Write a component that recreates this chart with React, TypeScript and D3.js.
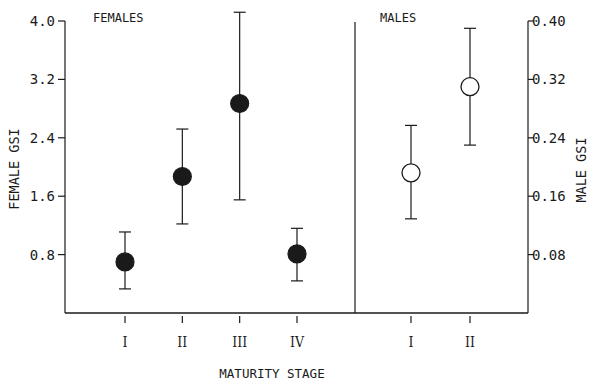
import React from "react";
import * as d3 from "d3";

const femaleStages = ["I", "II", "III", "IV"];
const femaleMean = [0.7, 1.87, 2.87, 0.81];
const femaleUpper = [1.11, 2.52, 4.12, 1.16];
const femaleLower = [0.33, 1.22, 1.55, 0.44];

const maleStages = ["I", "II"];
const maleMean = [0.192, 0.31];
const maleUpper = [0.257, 0.39];
const maleLower = [0.129, 0.23];

const leftTicks = [0.8, 1.6, 2.4, 3.2, 4.0];
const rightTicks = [0.08, 0.16, 0.24, 0.32, 0.4];

const W = 591;
const H = 382;
const left = 65;
const right = 528;
const divider = 355;
const top = 21;
const bottom = 313;

const font = "'DejaVu Sans Mono', monospace";
const ink = "#1a1a1a";

export default function App() {
  const yF = d3.scaleLinear().domain([0, 4]).range([bottom, top]);
  const yM = d3.scaleLinear().domain([0, 0.4]).range([bottom, top]);
  const xF = d3.scalePoint<string>().domain(femaleStages).range([125, 297]);
  const xM = d3.scalePoint<string>().domain(maleStages).range([411, 470]);
  const fmtL = d3.format(".1f");
  const fmtR = d3.format(".2f");
  const cap = 6;
  const r = 9;

  return (
    <svg width={W} height={H} style={{ position: "absolute", left: 0, top: 0, background: "#fff" }}>
      <g stroke={ink} fill="none" strokeWidth={1.2}>
        <line x1={left} x2={left} y1={top} y2={bottom} />
        <line x1={right} x2={right} y1={top} y2={bottom} />
        <line x1={left} x2={right} y1={bottom} y2={bottom} strokeWidth={1.4} />
        <line x1={divider} x2={divider} y1={top + 1} y2={bottom} />
        {leftTicks.map((t) => (
          <line key={"lt" + t} x1={left - 7} x2={left} y1={yF(t)} y2={yF(t)} />
        ))}
        {rightTicks.map((t) => (
          <line key={"rt" + t} x1={right} x2={right + 6} y1={yM(t)} y2={yM(t)} />
        ))}
        {femaleStages.map((s) => (
          <line key={"fx" + s} x1={xF(s)} x2={xF(s)} y1={bottom + 3} y2={bottom + 10} />
        ))}
        {maleStages.map((s) => (
          <line key={"mx" + s} x1={xM(s)} x2={xM(s)} y1={bottom + 3} y2={bottom + 10} />
        ))}
      </g>

      {leftTicks.map((t) => (
        <text key={"ll" + t} x={left - 10} y={yF(t)} dy="0.36em" textAnchor="end" fontSize={14} fill={ink} fontFamily={font}>
          {fmtL(t)}
        </text>
      ))}
      {rightTicks.map((t) => (
        <text key={"rl" + t} x={right + 4} y={yM(t)} dy="0.36em" textAnchor="start" fontSize={14} fill={ink} fontFamily={font}>
          {fmtR(t)}
        </text>
      ))}

      {femaleStages.map((s) => (
        <text key={"fl" + s} x={xF(s)} y={347} textAnchor="middle" fontSize={14} fill={ink} fontFamily="'DejaVu Serif', serif" style={{ fontStretch: "condensed" }}>
          {s}
        </text>
      ))}
      {maleStages.map((s) => (
        <text key={"ml" + s} x={xM(s)} y={347} textAnchor="middle" fontSize={14} fill={ink} fontFamily="'DejaVu Serif', serif" style={{ fontStretch: "condensed" }}>
          {s}
        </text>
      ))}

      <text x={272} y={378} textAnchor="middle" fontSize={12.5} fill={ink} fontFamily={font}>
        MATURITY STAGE
      </text>
      <text transform={`translate(19,169) rotate(-90)`} textAnchor="middle" fontSize={13.5} fill={ink} fontFamily={font}>
        FEMALE GSI
      </text>
      <text transform={`translate(586,170) rotate(-90)`} textAnchor="middle" fontSize={13.5} fill={ink} fontFamily={font}>
        MALE GSI
      </text>
      <text x={93} y={22} fontSize={12} fill={ink} fontFamily={font}>
        FEMALES
      </text>
      <text x={380} y={22} fontSize={12} fill={ink} fontFamily={font}>
        MALES
      </text>

      <g stroke={ink} strokeWidth={1.2}>
        {femaleStages.map((s, i) => (
          <g key={"fe" + s}>
            <line x1={xF(s)} x2={xF(s)} y1={yF(femaleUpper[i])} y2={yF(femaleLower[i])} />
            <line x1={xF(s)! - cap} x2={xF(s)! + cap} y1={yF(femaleUpper[i])} y2={yF(femaleUpper[i])} />
            <line x1={xF(s)! - cap} x2={xF(s)! + cap} y1={yF(femaleLower[i])} y2={yF(femaleLower[i])} />
            <circle cx={xF(s)} cy={yF(femaleMean[i])} r={r} fill={ink} />
          </g>
        ))}
        {maleStages.map((s, i) => (
          <g key={"me" + s}>
            <line x1={xM(s)} x2={xM(s)} y1={yM(maleUpper[i])} y2={yM(maleLower[i])} />
            <line x1={xM(s)! - cap} x2={xM(s)! + cap} y1={yM(maleUpper[i])} y2={yM(maleUpper[i])} />
            <line x1={xM(s)! - cap} x2={xM(s)! + cap} y1={yM(maleLower[i])} y2={yM(maleLower[i])} />
            <circle cx={xM(s)} cy={yM(maleMean[i])} r={r} fill="#fff" strokeWidth={1.3} />
          </g>
        ))}
      </g>
    </svg>
  );
}
